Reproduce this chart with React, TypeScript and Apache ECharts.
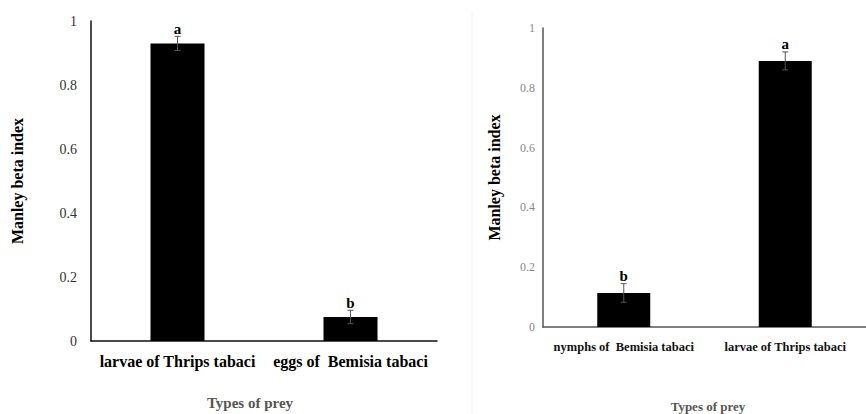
import React, { useEffect, useRef } from "react";
import * as echarts from "echarts";

const leftCategories = ["larvae of Thrips tabaci", "eggs of  Bemisia tabaci"];
const leftValues = [0.93, 0.075];
const leftErrors = [0.022, 0.021];
const leftLetters = ["a", "b"];

const rightCategories = ["nymphs of  Bemisia tabaci", "larvae of Thrips tabaci"];
const rightValues = [0.114, 0.89];
const rightErrors = [0.031, 0.03];
const rightLetters = ["b", "a"];

const yTicks = [0, 0.2, 0.4, 0.6, 0.8, 1];

const SERIF = "'Liberation Serif', 'DejaVu Serif', serif";

function errorSeries(xAxisIndex: number, yAxisIndex: number, values: number[], errors: number[], letters: string[], capW: number, letterSize: number) {
  return {
    type: "custom",
    xAxisIndex,
    yAxisIndex,
    silent: true,
    z: 5,
    data: values.map((v, i) => [i, v - errors[i], v + errors[i]]),
    renderItem: (params: any, api: any) => {
      const x = api.value(0);
      const lo = api.coord([x, api.value(1)]);
      const hi = api.coord([x, api.value(2)]);
      const letter = letters[params.dataIndex];
      const st = { stroke: "#555", lineWidth: 1 };
      return {
        type: "group",
        children: [
          { type: "line", shape: { x1: hi[0], y1: hi[1], x2: lo[0], y2: lo[1] }, style: st },
          { type: "line", shape: { x1: hi[0] - capW, y1: hi[1], x2: hi[0] + capW, y2: hi[1] }, style: st },
          { type: "line", shape: { x1: lo[0] - capW, y1: lo[1], x2: lo[0] + capW, y2: lo[1] }, style: st },
          {
            type: "text",
            x: hi[0],
            y: hi[1],
            style: {
              text: letter,
              fill: "#000",
              font: `bold ${letterSize}px ${SERIF}`,
              align: "center",
              verticalAlign: "bottom",
            },
          },
        ],
      };
    },
  };
}

export default function App() {
  const ref = useRef<HTMLDivElement>(null);
  useEffect(() => {
    if (!ref.current) return;
    const chart = echarts.init(ref.current, undefined, { renderer: "svg" });
    chart.setOption({
      animation: false,
      backgroundColor: "#fff",
      grid: [
        { left: 91, top: 21, width: 346, height: 320 },
        { left: 543, top: 28, width: 335, height: 299 },
      ],
      xAxis: [
        {
          type: "category",
          gridIndex: 0,
          data: leftCategories,
          axisLine: { lineStyle: { color: "#111", width: 1.5 } },
          axisTick: { show: false },
          axisLabel: { interval: 0, hideOverlap: false, margin: 12, color: "#000", fontFamily: SERIF, fontWeight: "bold", fontSize: 16 },
        },
        {
          type: "category",
          gridIndex: 1,
          data: rightCategories,
          axisLine: { lineStyle: { color: "#555", width: 1.5 } },
          axisTick: { show: false },
          axisLabel: { interval: 0, hideOverlap: false, margin: 13, color: "#111", fontFamily: SERIF, fontWeight: "bold", fontSize: 12.5 },
        },
      ],
      yAxis: [
        {
          type: "value",
          gridIndex: 0,
          min: 0,
          max: 1,
          interval: 0.2,
          splitLine: { show: false },
          axisLine: { show: true, lineStyle: { color: "#111", width: 1.5 } },
          axisTick: { show: false },
          axisLabel: { margin: 14, color: "#333", fontFamily: SERIF, fontSize: 14, formatter: (v: number) => String(+v.toFixed(1)) },
          name: "Manley beta index",
          nameLocation: "middle",
          nameGap: 66,
          nameTextStyle: { color: "#000", fontFamily: SERIF, fontWeight: "bold", fontSize: 16 },
        },
        {
          type: "value",
          gridIndex: 1,
          min: 0,
          max: 1,
          interval: 0.2,
          splitLine: { show: false },
          axisLine: { show: true, lineStyle: { color: "#555", width: 1.5 } },
          axisTick: { show: false },
          axisLabel: { margin: 8, color: "#888", fontFamily: SERIF, fontSize: 12, formatter: (v: number) => String(+v.toFixed(1)) },
          name: "Manley beta index",
          nameLocation: "middle",
          nameGap: 41,
          nameTextStyle: { color: "#000", fontFamily: SERIF, fontWeight: "bold", fontSize: 16 },
        },
      ],
      graphic: [
        { type: "line", shape: { x1: 472, y1: 10, x2: 472, y2: 414 }, style: { stroke: "#f2f2f2", lineWidth: 1 } },
        {
          type: "text",
          x: 250,
          y: 403,
          style: { text: "Types of prey", fill: "#555", font: `bold 15px ${SERIF}`, align: "center", verticalAlign: "middle" },
        },
        {
          type: "text",
          x: 708,
          y: 406,
          style: { text: "Types of prey", fill: "#555", font: `bold 13px ${SERIF}`, align: "center", verticalAlign: "middle" },
        },
      ],
      series: [
        {
          type: "bar",
          xAxisIndex: 0,
          yAxisIndex: 0,
          data: leftValues,
          barWidth: 54,
          itemStyle: { color: "#000" },
        },
        {
          type: "bar",
          xAxisIndex: 1,
          yAxisIndex: 1,
          data: rightValues,
          barWidth: 53,
          itemStyle: { color: "#000" },
        },
        errorSeries(0, 0, leftValues, leftErrors, leftLetters, 3, 15),
        errorSeries(1, 1, rightValues, rightErrors, rightLetters, 3, 15),
      ],
    });
    return () => chart.dispose();
  }, []);
  return (
    <div
      ref={ref}
      style={{ position: "fixed", left: 0, top: 0, width: 866, height: 414, background: "#fff" }}
    />
  );
}
